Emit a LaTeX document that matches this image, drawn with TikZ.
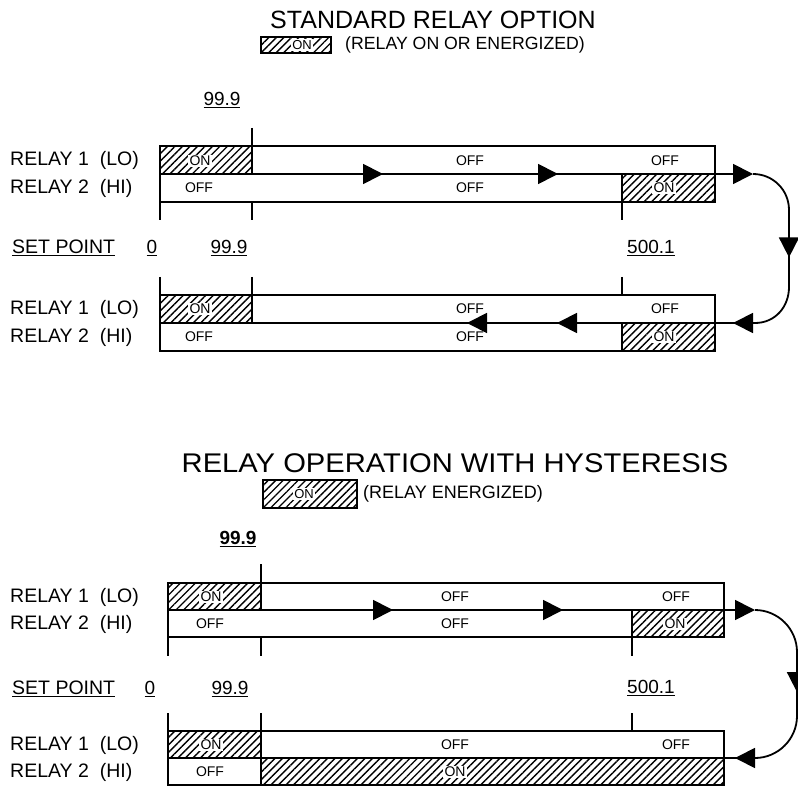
\documentclass[tikz,border=0pt]{standalone}
\usepackage{fontspec}
\setmainfont{Liberation Sans}
\usetikzlibrary{
    calc,
    arrows.meta,
    patterns.meta,
    decorations.markings
}
\tikzset{
    relay label/.style={anchor=west, inner sep=0pt, font=\fontsize{19.5}{21}\selectfont},
    value label/.style={inner sep=0pt, font=\fontsize{19}{21}\selectfont},
    state label/.style={inner sep=1pt, font=\fontsize{14}{14}\selectfont},
    on label/.style={state label, fill=white, inner sep=1.2pt},
    hatched/.style={pattern={Lines[angle=45,distance=5.3pt,line width=1.4pt]}},
    >={Triangle[length=20pt,width=20pt]}
}

\begin{document}
\begin{tikzpicture}[
        x=1pt, y=-1pt,
        bar/.style={line width=1.8pt},
        flow/.style={line width=1.8pt, postaction={decorate}},
        legend box/.style={line width=1.5pt, hatched}
    ]
    \useasboundingbox (0,0) rectangle (798,786);

    % ---------- standard relay option ----------
    \node (title std) at (433,20) {\fontsize{25}{27}\selectfont STANDARD RELAY OPTION};
    \draw[legend box] (261,37) rectangle (331,53);
    \node[on label, font=\fontsize{13}{13}\selectfont] (key std) at (302,45) {ON};
    \node[anchor=west, inner sep=0pt, font=\fontsize{17.7}{19}\selectfont] (key std text) at (345,45) {(RELAY ON OR ENERGIZED)};

    \node[value label] (lo std top) at (222,100) {\underline{99.9}};

    % upper bar
    \draw[bar] (160,146) rectangle (715,202);
    \draw[bar, hatched] (160,146) rectangle (252,174);
    \draw[bar, hatched] (622,174) rectangle (715,202);
    \draw[bar] (252,128) -- (252,146);
    \foreach \x in {160,252,622}
        \draw[bar] (\x,202) -- (\x,220);

    \node[relay label] (r1 std up) at (10,160) {RELAY 1\ \ (LO)};
    \node[relay label] (r2 std up) at (10,188) {RELAY 2\ \ (HI)};
    \node[on label]    at (200,161) {ON};
    \node[state label] at (470,161) {OFF};
    \node[state label] at (665,161) {OFF};
    \node[state label] at (199,188) {OFF};
    \node[state label] at (470,188) {OFF};
    \node[on label]    at (664,188) {ON};

    \node[relay label] (sp std) at (12,248) {\underline{SET POINT}};
    \node[value label] (zero std) at (152,248) {\underline{0}};
    \node[value label] (lo std) at (229,248) {\underline{99.9}};
    \node[value label] (hi std) at (651,248) {\underline{500.1}};

    % lower bar
    \foreach \x in {160,252,622}
        \draw[bar] (\x,277) -- (\x,295);
    \draw[bar] (160,295) rectangle (715,351);
    \draw[bar, hatched] (160,295) rectangle (252,323);
    \draw[bar, hatched] (622,323) rectangle (715,351);

    \node[relay label] (r1 std dn) at (10,309) {RELAY 1\ \ (LO)};
    \node[relay label] (r2 std dn) at (10,337) {RELAY 2\ \ (HI)};
    \node[on label]    at (200,309) {ON};
    \node[state label] at (470,309) {OFF};
    \node[state label] at (665,309) {OFF};
    \node[state label] at (199,337) {OFF};
    \node[state label] at (470,337) {OFF};
    \node[on label]    at (664,337) {ON};

    % direction of travel
    \coordinate (A left) at (160,174);
    \coordinate (A out) at (753,174);
    \coordinate (B in) at (755,323);
    \coordinate (B left) at (160,323);
    \draw[flow, ->, decoration={markings,
            mark=at position 223pt with {\arrow{>}},
            mark=at position 398pt with {\arrow{>}}}]
        (A left) -- (A out);
    \draw[flow, decoration={markings, mark=at position 104pt with {\arrow{>}}}]
        (A out) .. controls +(20,0) and +(0,-20) .. (789,210)
        -- (789,287) .. controls +(0,20) and +(20,0) .. (B in);
    \draw[flow, decoration={markings,
            mark=at position 22pt with {\arrow{>}},
            mark=at position 198pt with {\arrow{>}},
            mark=at position 288pt with {\arrow{>}}}]
        (B in) -- (B left);

    % ---------- relay operation with hysteresis ----------
    \node (title hys) at (455,463) {\fontsize{27}{29}\selectfont\scalebox{1.08}[1]{RELAY OPERATION WITH HYSTERESIS}};
    \draw[legend box] (263,480) rectangle (357,508);
    \node[on label, font=\fontsize{13}{13}\selectfont] (key hys) at (304,494) {ON};
    \node[anchor=west, inner sep=0pt, font=\fontsize{18}{20}\selectfont] (key hys text) at (363,494) {(RELAY ENERGIZED)};

    \node[value label] (lo hys top) at (238,539) {\underline{\textbf{99.9}}};

    % upper bar
    \draw[bar] (261,564) -- (261,583);
    \draw[bar] (168,583) rectangle (724,637);
    \draw[bar, hatched] (168,583) rectangle (261,610);
    \draw[bar, hatched] (632,610) rectangle (724,637);
    \foreach \x in {168,261,632}
        \draw[bar] (\x,637) -- (\x,656);

    \node[relay label] (r1 hys up) at (10,597) {RELAY 1\ \ (LO)};
    \node[relay label] (r2 hys up) at (10,624) {RELAY 2\ \ (HI)};
    \node[on label]    at (211,597) {ON};
    \node[state label] at (455,597) {OFF};
    \node[state label] at (676,597) {OFF};
    \node[state label] at (210,624) {OFF};
    \node[state label] at (455,624) {OFF};
    \node[on label]    at (675,624) {ON};

    \node[relay label] (sp hys) at (12,689) {\underline{SET POINT}};
    \node[value label] (zero hys) at (150,689) {\underline{0}};
    \node[value label] (lo hys) at (230,689) {\underline{99.9}};
    \node[value label] (hi hys) at (651,688) {\underline{500.1}};

    % lower bar
    \foreach \x in {168,261,632}
        \draw[bar] (\x,713) -- (\x,731);
    \draw[bar] (168,731) rectangle (724,785);
    \draw[bar, hatched] (168,731) rectangle (261,758);
    \draw[bar, hatched] (261,758) rectangle (724,785);

    \node[relay label] (r1 hys dn) at (10,745) {RELAY 1\ \ (LO)};
    \node[relay label] (r2 hys dn) at (10,772) {RELAY 2\ \ (HI)};
    \node[on label]    at (211,745) {ON};
    \node[state label] at (455,745) {OFF};
    \node[state label] at (676,745) {OFF};
    \node[state label] at (210,772) {OFF};
    \node[on label]    at (455,772) {ON};

    % direction of travel
    \coordinate (C left) at (168,610);
    \coordinate (C out) at (755,610);
    \coordinate (D in) at (755,758);
    \coordinate (D left) at (168,758);
    \draw[flow, ->, decoration={markings,
            mark=at position 225pt with {\arrow{>}},
            mark=at position 395pt with {\arrow{>}}}]
        (C left) -- (C out);
    \draw[flow, decoration={markings, mark=at position 106pt with {\arrow{>}}}]
        (C out) .. controls +(23,0) and +(0,-23) .. (797,652)
        -- (797,716) .. controls +(0,23) and +(23,0) .. (D in);
    \draw[flow, decoration={markings, mark=at position 20pt with {\arrow{>}}}]
        (D in) -- (D left);
\end{tikzpicture}
\end{document}
